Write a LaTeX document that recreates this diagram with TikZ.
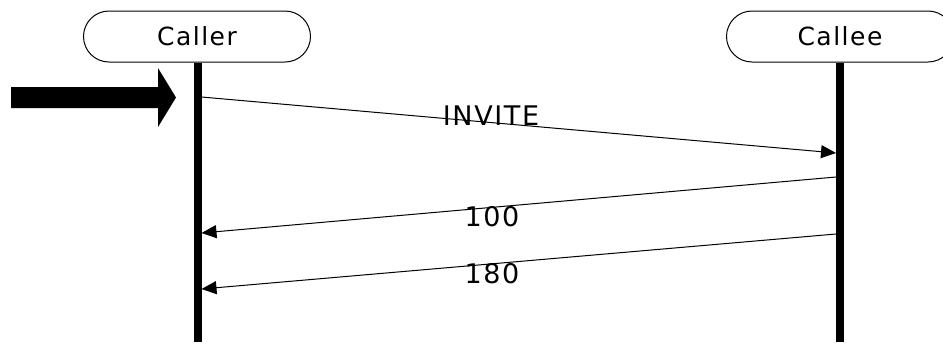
\documentclass[tikz,border=0pt]{standalone}
\usepackage{fontspec}
\setmainfont{DejaVu Sans}[LetterSpace=6]
\usetikzlibrary{arrows.meta,shapes.misc}
\begin{document}
\begin{tikzpicture}[x=1bp,y=-1bp,
  actor/.style={draw=black,line width=1bp,rounded rectangle,minimum width=227bp,minimum height=51bp,inner sep=0pt,font=\fontsize{25bp}{28bp}\selectfont},
  lifeline/.style={line width=8bp},
  msg/.style={line width=1bp,-{Triangle[length=15bp,width=13bp]},shorten >=0pt},
  lbl/.style={inner sep=0pt,font=\fontsize{27bp}{30bp}\selectfont}]
\useasboundingbox (0,0) rectangle (943,343);
\node[actor] (caller) at (197,36.5) {Caller};
\node[actor] (callee) at (840,36.5) {Callee};
\coordinate (callerEnd) at (197.5,342);
\coordinate (calleeEnd) at (840,342);
\draw[lifeline] (caller.south -| callerEnd) -- (callerEnd);
\draw[lifeline] (callee.south -| calleeEnd) -- (calleeEnd);
\fill (11,87) -- (158,87) -- (158,68) -- (176,97.5) -- (158,127) -- (158,108) -- (11,108) -- cycle;
\coordinate (a1) at (201.5,97);
\coordinate (b1) at (836,153);
\coordinate (b2) at (836,177);
\coordinate (a2) at (201.5,233);
\coordinate (b3) at (836,234);
\coordinate (a3) at (201.5,289);
\draw[msg] (a1) -- (b1);
\draw[msg] (b2) -- (a2);
\draw[msg] (b3) -- (a3);
\node[lbl] (l1) at (491,116) {INVITE};
\node[lbl] (l2) at (492,217) {100};
\node[lbl] (l3) at (492,274) {180};
\end{tikzpicture}
\end{document}
